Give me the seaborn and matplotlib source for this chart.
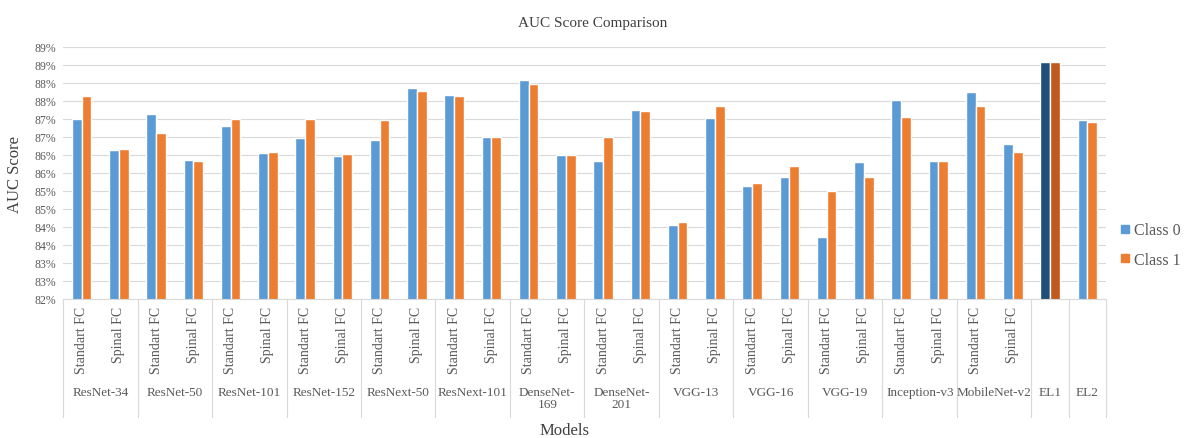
import math
import numpy as np
import pandas as pd
import matplotlib
matplotlib.use("Agg")
import matplotlib.pyplot as plt
from matplotlib.lines import Line2D
from matplotlib.ticker import FuncFormatter, MultipleLocator
import seaborn as sns

# ---- data -------------------------------------------------------------
backbones = ["ResNet-34", "ResNet-50", "ResNet-101", "ResNet-152", "ResNext-50",
             "ResNext-101", "DenseNet-\n169", "DenseNet-\n201", "VGG-13", "VGG-16",
             "VGG-19", "Inception-v3", "MobileNet-v2"]
heads = ["Standart FC", "Spinal FC"]
ensembles = ["EL1", "EL2"]

class0 = [87.00, 86.15, 87.13, 85.85, 86.80, 86.06, 86.47, 85.96, 86.41, 87.86,
          87.68, 86.49, 88.07, 86.00, 85.84, 87.25, 84.06, 87.02, 85.15, 85.40,
          83.73, 85.80, 87.53, 85.84, 87.75, 86.31, 88.58, 86.96]
class1 = [87.63, 86.17, 86.60, 85.83, 87.00, 86.08, 87.00, 86.04, 86.98, 87.79,
          87.63, 86.49, 87.96, 85.99, 86.51, 87.22, 84.13, 87.35, 85.23, 85.70,
          85.00, 85.40, 87.05, 85.84, 87.35, 86.08, 88.58, 86.93]

series_names = ["Class 0", "Class 1"]

# ---- long-form table --------------------------------------------------
slot_keys, slot_heads = [], []
for b in backbones:
    for h in heads:
        slot_keys.append(f"{b}|{h}")
        slot_heads.append(h)
for e in ensembles:
    slot_keys.append(f"{e}|")
    slot_heads.append("")

df = pd.DataFrame({
    "slot": slot_keys * 2,
    "Class": [series_names[0]] * len(slot_keys) + [series_names[1]] * len(slot_keys),
    "AUC": class0 + class1,
})

# ---- style ------------------------------------------------------------
sns.set_style("white")
plt.rcParams["font.family"] = ["Liberation Serif", "DejaVu Serif"]

blue, orange = "#5B9BD5", "#ED7D31"
dark_blue, dark_orange = "#1F4E79", "#C0591A"
grid_c = "#D9D9D9"
txt_c = "#595959"

W, H = 1185, 439
fig = plt.figure(figsize=(W / 100, H / 100), dpi=100)
ax_l, ax_r, ax_t, ax_b = 63, 1106, 48, 300
ax = fig.add_axes([ax_l / W, 1 - ax_b / H, (ax_r - ax_l) / W, (ax_b - ax_t) / H])

sns.barplot(data=df, x="slot", y="AUC", hue="Class", order=slot_keys,
            hue_order=series_names, palette=[blue, orange], saturation=1,
            width=0.52, gap=0, errorbar=None, legend=False, ax=ax)

# ensemble EL1 drawn in darker shades
el1 = slot_keys.index("EL1|")
ax.containers[0][el1].set_facecolor(dark_blue)
ax.containers[1][el1].set_facecolor(dark_orange)

# ---- axes -------------------------------------------------------------
ax.set_ylim(82, 89)
ax.set_xlim(-0.5, len(slot_keys) - 0.5)
ax.yaxis.set_major_locator(MultipleLocator(0.5))
ax.yaxis.set_major_formatter(FuncFormatter(lambda v, p: f"{math.floor(v + 0.5 + 1e-9)}%"))
ax.grid(axis="y", color=grid_c, linewidth=0.8)
ax.set_axisbelow(True)
for s in ["top", "right", "left"]:
    ax.spines[s].set_visible(False)
ax.spines["bottom"].set_color(grid_c)
ax.spines["bottom"].set_linewidth(0.8)

ax.set_xticks(range(len(slot_keys)))
ax.set_xticklabels(slot_heads, rotation=90, fontsize=10, color=txt_c)
ax.tick_params(axis="x", length=0, pad=5)
ax.tick_params(axis="y", length=0, pad=5, labelsize=8.5, labelcolor=txt_c)
ax.set_xlabel("")
ax.set_ylabel("")

# group labels and separators on the category axis
trans = ax.get_xaxis_transform()
group_y = (ax_b - 387) / (ax_b - ax_t)
sep_y = (ax_b - 418) / (ax_b - ax_t)
group_names = backbones + ensembles
centers = [2 * i + 0.5 for i in range(len(backbones))] + \
          [2 * len(backbones) + i for i in range(len(ensembles))]
for name, cx in zip(group_names, centers):
    ax.text(cx, group_y, name, transform=trans, ha="center", va="top",
            fontsize=9.5, color=txt_c, linespacing=1.0)

bounds = [2 * i - 0.5 for i in range(len(backbones) + 1)] + \
         [2 * len(backbones) + i + 0.5 for i in range(len(ensembles))]
for bx in bounds:
    ax.plot([bx, bx], [0, sep_y], transform=trans, color=grid_c,
            linewidth=0.8, clip_on=False)

# ---- titles -----------------------------------------------------------
fig.text(0.5, 1 - 23 / H, "AUC Score Comparison", ha="center", va="center",
         fontsize=11, color="#404040")
fig.text(15 / W, 1 - 175 / H, "AUC Score", ha="center", va="center",
         rotation=90, fontsize=12, color="#404040")
fig.text(565 / W, 1 - 431 / H, "Models", ha="center", va="center",
         fontsize=12, color="#404040")

handles = [Line2D([], [], linestyle="none", marker="s", markersize=5.5,
                  markerfacecolor=c, markeredgecolor=c) for c in (blue, orange)]
fig.legend(handles, series_names, loc="center left",
           bbox_to_anchor=(1121 / W, 1 - 246 / H), frameon=False,
           fontsize=11.5, handlelength=0.5, handletextpad=0.3,
           labelspacing=0.85, borderpad=0, borderaxespad=0, labelcolor=txt_c)

fig.savefig("out.png", dpi=100)
